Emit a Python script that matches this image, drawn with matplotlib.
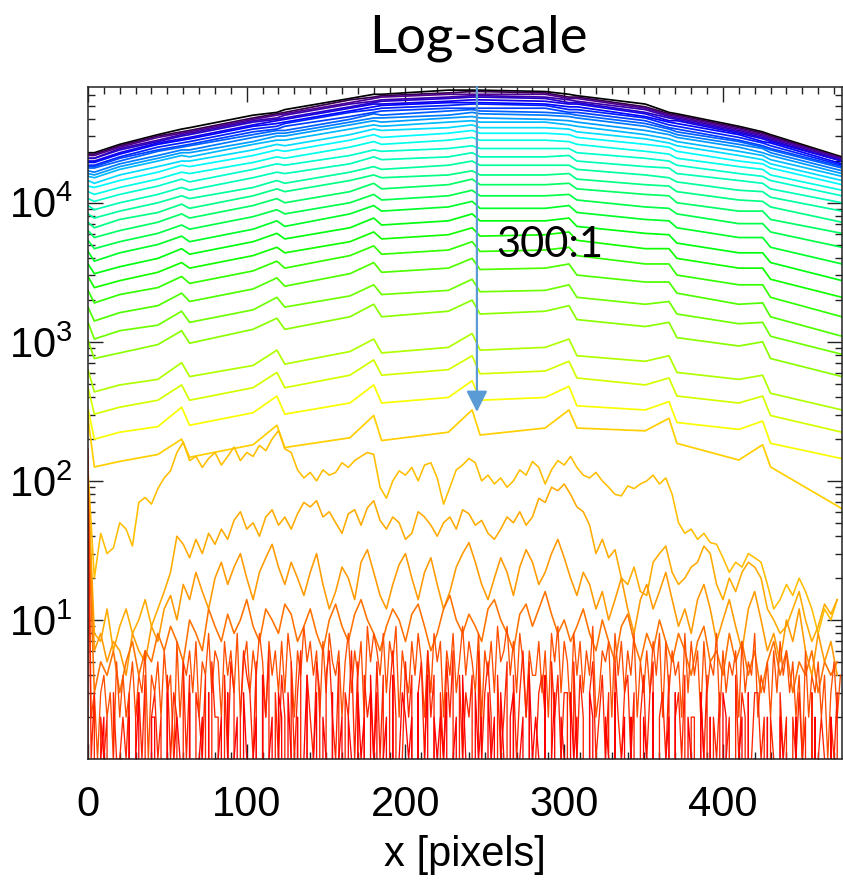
import numpy as np
import matplotlib
matplotlib.use("Agg")
import matplotlib.pyplot as plt
from matplotlib import font_manager
from matplotlib.colors import LinearSegmentedColormap
from matplotlib.ticker import FixedLocator, MultipleLocator, LogLocator, NullFormatter

# ---------------- data ----------------
# x positions (pixels) at which the smooth profiles were read
knot_x = [0, 4, 20, 44, 59, 64, 104, 119, 124, 165, 180, 185, 227, 242, 247,
          288, 303, 308, 351, 366, 371, 410, 425, 430, 475]

# log10(counts) of each smooth profile at knot_x, top (black) to bottom (gold)
smooth_log10 = [
    [4.36,4.36,4.42,4.49,4.53,4.54,4.63,4.65,4.67,4.75,4.78,4.78,4.81,4.81,4.81,4.80,4.78,4.77,4.71,4.65,4.64,4.55,4.51,4.49,4.33],
    [4.35,4.35,4.41,4.48,4.51,4.52,4.61,4.64,4.65,4.74,4.76,4.77,4.79,4.80,4.80,4.79,4.76,4.76,4.69,4.64,4.63,4.54,4.50,4.48,4.32],
    [4.34,4.34,4.40,4.47,4.50,4.51,4.60,4.63,4.64,4.72,4.75,4.76,4.78,4.78,4.78,4.78,4.75,4.75,4.68,4.63,4.62,4.53,4.49,4.47,4.32],
    [4.32,4.32,4.39,4.45,4.49,4.50,4.59,4.61,4.63,4.71,4.73,4.74,4.76,4.77,4.77,4.76,4.74,4.73,4.67,4.62,4.61,4.52,4.48,4.46,4.31],
    [4.32,4.32,4.38,4.44,4.48,4.49,4.58,4.60,4.61,4.69,4.72,4.73,4.75,4.76,4.76,4.75,4.72,4.72,4.65,4.61,4.60,4.51,4.47,4.45,4.30],
    [4.30,4.30,4.36,4.43,4.46,4.47,4.56,4.59,4.60,4.68,4.71,4.71,4.73,4.74,4.74,4.73,4.71,4.71,4.64,4.59,4.59,4.50,4.46,4.44,4.30],
    [4.29,4.29,4.35,4.42,4.45,4.46,4.55,4.57,4.58,4.66,4.69,4.70,4.72,4.72,4.72,4.71,4.69,4.69,4.62,4.58,4.57,4.49,4.44,4.43,4.28],
    [4.27,4.27,4.33,4.40,4.43,4.44,4.53,4.55,4.57,4.65,4.67,4.68,4.70,4.71,4.71,4.70,4.67,4.67,4.61,4.56,4.55,4.47,4.43,4.41,4.27],
    [4.26,4.26,4.32,4.38,4.41,4.42,4.51,4.53,4.55,4.62,4.65,4.66,4.68,4.68,4.68,4.68,4.65,4.65,4.59,4.54,4.53,4.45,4.41,4.39,4.26],
    [4.25,4.25,4.30,4.37,4.40,4.41,4.49,4.52,4.52,4.60,4.64,4.63,4.66,4.67,4.66,4.65,4.64,4.63,4.57,4.53,4.51,4.44,4.40,4.38,4.25],
    [4.23,4.22,4.28,4.34,4.38,4.38,4.47,4.50,4.50,4.58,4.61,4.61,4.63,4.65,4.64,4.63,4.62,4.61,4.55,4.51,4.49,4.42,4.39,4.36,4.23],
    [4.21,4.20,4.26,4.32,4.36,4.36,4.44,4.48,4.48,4.56,4.59,4.58,4.61,4.62,4.61,4.60,4.59,4.58,4.52,4.49,4.47,4.40,4.36,4.34,4.21],
    [4.19,4.18,4.24,4.30,4.34,4.33,4.42,4.45,4.45,4.53,4.56,4.55,4.58,4.59,4.58,4.58,4.56,4.55,4.49,4.46,4.44,4.37,4.34,4.31,4.19],
    [4.16,4.14,4.20,4.26,4.30,4.30,4.38,4.42,4.41,4.49,4.53,4.52,4.54,4.56,4.54,4.54,4.53,4.51,4.46,4.43,4.41,4.34,4.31,4.28,4.16],
    [4.12,4.11,4.16,4.22,4.27,4.26,4.34,4.38,4.37,4.45,4.49,4.47,4.50,4.52,4.50,4.50,4.49,4.47,4.42,4.40,4.37,4.30,4.28,4.25,4.13],
    [4.08,4.06,4.11,4.17,4.22,4.21,4.29,4.33,4.32,4.40,4.44,4.42,4.45,4.47,4.45,4.45,4.44,4.42,4.37,4.35,4.32,4.26,4.24,4.20,4.09],
    [4.03,4.01,4.06,4.12,4.17,4.15,4.24,4.28,4.27,4.34,4.38,4.37,4.39,4.41,4.39,4.39,4.39,4.36,4.32,4.30,4.27,4.21,4.19,4.16,4.05],
    [3.98,3.95,4.00,4.06,4.11,4.09,4.18,4.22,4.21,4.28,4.33,4.31,4.33,4.36,4.33,4.33,4.34,4.30,4.26,4.25,4.21,4.16,4.14,4.10,4.00],
    [3.92,3.89,3.94,4.00,4.05,4.03,4.11,4.16,4.14,4.22,4.26,4.24,4.27,4.30,4.27,4.27,4.27,4.24,4.20,4.18,4.15,4.09,4.08,4.04,3.94],
    [3.86,3.82,3.88,3.93,3.99,3.96,4.05,4.10,4.08,4.16,4.20,4.18,4.20,4.23,4.20,4.20,4.21,4.17,4.13,4.12,4.08,4.02,4.01,3.97,3.86],
    [3.80,3.75,3.80,3.86,3.92,3.89,3.98,4.03,4.00,4.08,4.14,4.10,4.13,4.17,4.13,4.13,4.14,4.10,4.06,4.05,4.00,3.94,3.94,3.88,3.78],
    [3.73,3.67,3.72,3.78,3.84,3.81,3.90,3.95,3.92,4.00,4.06,4.02,4.05,4.09,4.05,4.05,4.06,4.02,3.97,3.96,3.92,3.85,3.85,3.79,3.68],
    [3.65,3.58,3.64,3.70,3.76,3.72,3.81,3.87,3.83,3.92,3.98,3.94,3.97,4.01,3.96,3.96,3.98,3.93,3.88,3.87,3.82,3.75,3.75,3.68,3.56],
    [3.56,3.49,3.54,3.60,3.67,3.63,3.72,3.78,3.74,3.82,3.89,3.84,3.87,3.92,3.87,3.87,3.89,3.83,3.78,3.77,3.71,3.64,3.64,3.57,3.44],
    [3.47,3.39,3.44,3.50,3.57,3.53,3.62,3.68,3.64,3.72,3.79,3.74,3.77,3.82,3.76,3.77,3.79,3.73,3.67,3.67,3.60,3.53,3.53,3.45,3.32],
    [3.37,3.28,3.34,3.39,3.47,3.42,3.51,3.58,3.53,3.62,3.69,3.63,3.66,3.72,3.65,3.66,3.68,3.62,3.56,3.56,3.48,3.41,3.41,3.32,3.18],
    [3.25,3.15,3.21,3.26,3.35,3.29,3.38,3.46,3.40,3.49,3.57,3.50,3.53,3.60,3.52,3.53,3.56,3.48,3.43,3.43,3.35,3.27,3.28,3.18,3.04],
    [3.14,3.02,3.08,3.12,3.22,3.14,3.23,3.32,3.25,3.33,3.41,3.34,3.37,3.45,3.36,3.37,3.41,3.32,3.27,3.29,3.20,3.13,3.14,3.04,2.91],
    [3.01,2.88,2.92,2.98,3.08,2.99,3.09,3.17,3.09,3.18,3.27,3.18,3.22,3.30,3.20,3.22,3.26,3.16,3.11,3.14,3.03,2.97,3.00,2.88,2.75],
    [2.80,2.64,2.69,2.73,2.85,2.75,2.83,2.94,2.84,2.93,3.02,2.92,2.96,3.06,2.94,2.96,3.02,2.90,2.86,2.90,2.78,2.73,2.76,2.63,2.51],
    [2.67,2.48,2.53,2.58,2.69,2.58,2.67,2.78,2.67,2.76,2.87,2.76,2.80,2.90,2.77,2.79,2.86,2.74,2.69,2.74,2.61,2.56,2.61,2.47,2.35],
    [2.52,2.30,2.35,2.39,2.53,2.40,2.49,2.61,2.48,2.56,2.69,2.56,2.60,2.72,2.58,2.60,2.68,2.54,2.51,2.57,2.42,2.37,2.43,2.27,2.16],
    [2.45,2.10,2.14,2.19,2.30,2.17,2.26,2.40,2.24,2.31,2.47,2.29,2.35,2.51,2.33,2.38,2.51,2.38,2.36,2.45,2.27,2.15,2.26,2.10,1.80],
]

# noisy orange profiles, counts read every 4 pixels starting at x = 0
noisy_step = 4
orange_1 = [120,20,42,30,33,50,45,34,70,76,68,88,105,118,160,190,140,150,125,145,
            160,130,150,175,140,160,150,180,165,200,230,170,160,120,105,115,100,120,110,115,
            135,125,140,150,160,155,90,75,100,118,110,125,100,130,135,105,68,90,120,130,
            145,135,100,110,95,105,90,100,120,110,138,125,95,120,140,130,150,125,110,105,
            115,100,90,80,78,92,88,95,100,110,95,105,80,50,42,45,38,42,36,35,
            28,22,26,24,30,28,26,18,12,14,18,15,20,16,12,8,12,10,14]
orange_2 = [100,8,7,12,6,9,12,8,10,14,9,12,16,22,40,35,28,38,30,42,
            35,45,38,52,60,45,50,40,55,62,48,55,45,58,70,65,72,55,60,50,
            42,58,62,48,64,72,52,45,55,50,38,42,60,55,48,40,50,55,45,62,
            58,48,52,42,38,45,55,50,60,48,55,75,70,90,85,95,80,65,60,48,
            30,38,28,32,20,18,24,16,15,26,30,34,22,18,20,24,26,34,30,18,
            14,20,16,22,26,24,20,12,10,8,9,12,16,10,7,9,13,11,14]
orange_3 = [80,6,8,5,7,6,4,8,6,5,9,7,12,15,10,18,14,22,16,12,
            20,26,18,24,30,20,14,22,28,35,24,18,26,20,15,22,30,18,12,16,
            24,20,14,26,32,22,15,12,18,25,30,20,14,22,28,18,12,16,24,30,
            36,26,18,14,20,28,22,15,24,32,26,18,22,30,38,28,20,15,22,18,
            12,16,10,14,20,12,8,14,18,12,16,22,14,9,12,8,14,18,12,7,
            10,14,9,6,12,16,10,6,8,5,10,7,12,6,4,8,5,7,4]
orange_4 = [60,3,5,4,6,3,5,7,4,6,5,8,6,9,7,5,10,8,6,12,
            9,7,11,8,10,14,9,7,12,10,8,13,11,7,9,12,8,6,10,13,
            9,7,11,14,10,8,6,9,12,10,7,11,13,9,6,8,12,15,10,8,
            11,9,7,12,14,10,8,6,11,13,9,12,16,11,8,10,7,9,12,8,
            6,10,7,5,9,11,7,5,8,6,10,7,5,8,6,4,7,9,5,6,
            4,8,5,7,4,6,3,5,7,4,6,3,5,4,6,3,5,4,5]
noisy_counts = [orange_1, orange_2, orange_3, orange_4]

# red integer-count profiles: value at x = 0, then one digit per 2 pixels from x = 2
red_step = 2
red_edge_counts = [150, 110, 170]
red_digits = [
    "2313423152423524361435263417254637254836527463825736485274637385264957"
    "4627385462583647295864837592643748526385726483594753826473956947385264"
    "4736285937528473649236572847364825363748273645283746273548263546273548"
    "243526374635241624352413524",
    "1302120311213023140231204132051403214052204153026431504260314205136042"
    "1530462150326150423151403620152403516240315260413240613520412504136250"
    "1342052413305142035124130521341302413502314023140220314021301204132013"
    "312021031202131203012102130",
    "0101201001102013010220103012100301120301120301203101204012032031020140"
    "1302103012021031204130120401321203014021213012041003120312031023012041"
    "2104013021031201032010210301202010210301012030102110310201032010120301"
    "010201021010201010200102010",
]

x_ticks = [0, 100, 200, 300, 400]
y_ticks = [10, 100, 1000, 10000]
y_tick_labels = [r"$10^{1}$", r"$10^{2}$", r"$10^{3}$", r"$10^{4}$"]
title_text = "Log-scale"
x_label = "x [pixels]"
ratio_text = "300:1"
arrow_x = 245
arrow_from = 68000
arrow_to = 313
ratio_text_pos = (257, 4990)

# ---------------- styling ----------------
def pick(fams):
    names = {f.name for f in font_manager.fontManager.ttflist}
    for f in fams:
        if f in names:
            return f
    return "DejaVu Sans"

tick_font = pick(["Liberation Sans Narrow", "Liberation Sans", "DejaVu Sans"])
title_font = pick(["Lato", "Open Sans", "DejaVu Sans"])

plt.rcParams["mathtext.fontset"] = "custom"
plt.rcParams["mathtext.rm"] = tick_font
plt.rcParams["mathtext.it"] = tick_font
plt.rcParams["mathtext.bf"] = tick_font

cmap = LinearSegmentedColormap.from_list("idl_rainbow", [
    (0.00, (0.0, 0.0, 0.0)),
    (0.04, (0.35, 0.0, 0.5)),
    (0.15, (0.0, 0.0, 1.0)),
    (0.28, (0.0, 0.6, 1.0)),
    (0.36, (0.0, 1.0, 1.0)),
    (0.48, (0.0, 1.0, 0.55)),
    (0.60, (0.0, 1.0, 0.0)),
    (0.72, (0.55, 1.0, 0.0)),
    (0.80, (1.0, 1.0, 0.0)),
    (0.82, (1.0, 0.82, 0.0)),
    (0.90, (1.0, 0.6, 0.0)),
    (1.00, (1.0, 0.0, 0.0)),
])

W, H = 843, 883
fig = plt.figure(figsize=(W / 100, H / 100), dpi=100)
ax = fig.add_axes([88 / W, 1 - 759 / H, (842 - 88) / W, (759 - 87) / H])
ax.set_yscale("log")

n_total = len(smooth_log10) + len(noisy_counts) + len(red_digits)
ci = 0
for row in smooth_log10:
    ax.plot(knot_x, 10.0 ** np.array(row), color=cmap(ci / (n_total - 1)), lw=1.25,
            solid_joinstyle="round")
    ci += 1
for vals in noisy_counts:
    xs = np.arange(len(vals)) * noisy_step
    ax.plot(xs, vals, color=cmap(ci / (n_total - 1)), lw=1.15)
    ci += 1
for edge, digits in zip(red_edge_counts, red_digits):
    vals = [edge] + [int(c) for c in digits]
    xs = np.arange(len(vals)) * red_step
    ax.plot(xs, vals, color=cmap(ci / (n_total - 1)), lw=0.95)
    ci += 1

ax.set_xlim(0, 475)
ax.set_ylim(1.0, 68000)

ax.annotate("", xy=(arrow_x, arrow_to), xytext=(arrow_x, arrow_from),
            arrowprops=dict(arrowstyle="-|>", color="#5b9bd5", lw=1.6,
                            mutation_scale=32, shrinkA=0, shrinkB=0))
ax.text(ratio_text_pos[0], ratio_text_pos[1], ratio_text, fontsize=30,
        family=title_font, ha="left", va="center", color="black")

ax.xaxis.set_major_locator(FixedLocator(x_ticks))
ax.xaxis.set_minor_locator(MultipleLocator(10))
ax.yaxis.set_major_locator(FixedLocator(y_ticks))
ax.set_yticklabels(y_tick_labels)
ax.yaxis.set_minor_locator(LogLocator(base=10, subs=np.arange(2, 10)))
ax.yaxis.set_minor_formatter(NullFormatter())

ax.tick_params(which="both", direction="in", top=True, right=True, color="#222222", width=1.0)
ax.tick_params(which="major", length=11)
ax.tick_params(which="minor", length=5)
ax.tick_params(axis="x", which="major", pad=19, labelsize=30)
ax.tick_params(axis="y", which="major", pad=11, labelsize=30)
for lab in ax.get_xticklabels() + ax.get_yticklabels():
    lab.set_family(tick_font)
for sp in ax.spines.values():
    sp.set_linewidth(1.1)
    sp.set_color("#222222")

ax.set_xlabel(x_label, fontsize=30, family=tick_font)
ax.xaxis.set_label_coords(0.5, -(855 - 759) / (759 - 87))
ax.xaxis.label.set_va("center")

fig.text(478 / W, 1 - 52 / H, title_text, ha="center", va="baseline",
         fontsize=38, family=title_font)

fig.savefig("out.png", dpi=100)
